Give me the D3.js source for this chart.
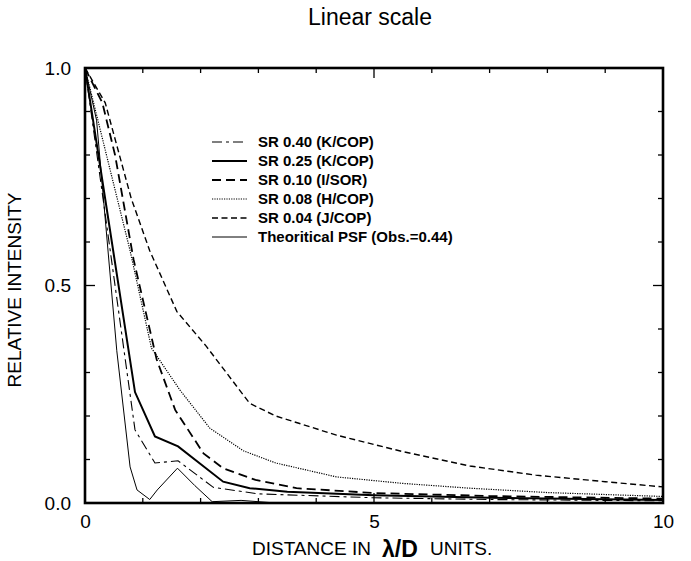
<!DOCTYPE html>
<html>
<head>
<meta charset="utf-8">
<script src="https://cdn.jsdelivr.net/npm/d3@7"></script>
<style>
  body { margin: 0; background: #fff; }
  svg { font-family: "Liberation Sans", Arial, Helvetica, sans-serif; }
</style>
</head>
<body>
<div id="chart"></div>
<script>
// values, [distance in lambda/D, relative intensity]
const sr40 = [[0, 1], [0.865, 0.168], [1.21, 0.092], [1.61, 0.097], [2.22, 0.036], [3, 0.021], [5, 0.012], [7, 0.008], [10, 0.005]];
const sr25 = [[0, 1], [0.865, 0.255], [1.21, 0.153], [1.61, 0.13], [2.39, 0.049], [2.85, 0.034], [3.5, 0.026], [5, 0.018], [7, 0.012], [10, 0.007]];
const sr10 = [[0, 1], [0.3, 0.92], [0.52, 0.8], [0.84, 0.56], [1.24, 0.33], [1.56, 0.214], [2.05, 0.114], [2.39, 0.08], [2.95, 0.053], [3.66, 0.034], [5, 0.023], [7, 0.016], [10, 0.01]];
const sr08 = [[0, 1], [0.78, 0.58], [1.15, 0.356], [1.64, 0.26], [2.16, 0.172], [2.74, 0.12], [3.3, 0.092], [4.35, 0.06], [5.5, 0.045], [6.66, 0.034], [8, 0.024], [10, 0.015]];
const sr04 = [[0, 1], [0.35, 0.92], [0.8, 0.7], [1.12, 0.58], [1.59, 0.44], [2.1, 0.36], [2.85, 0.229], [3.3, 0.2], [4.35, 0.156], [5.5, 0.118], [6.66, 0.085], [7.8, 0.064], [9, 0.049], [10, 0.037]];
const psf = [[0, 1], [0.2, 0.88], [0.55, 0.35], [0.78, 0.083], [0.9, 0.03], [1.12, 0.008], [1.25, 0.03], [1.6, 0.08], [1.9, 0.04], [2.2, 0.003], [2.7, 0.006], [3.2, 0.001], [10, 0.001]];

const seriesLabels = ["SR 0.40 (K/COP)", "SR 0.25 (K/COP)", "SR 0.10 (I/SOR)", "SR 0.08 (H/COP)", "SR 0.04 (J/COP)", "Theoritical PSF (Obs.=0.44)"];
const xTickLabels = [0, 5, 10];
const yTickLabels = [0, 0.5, 1];

const seriesData = [sr40, sr25, sr10, sr08, sr04, psf];
const seriesStyle = [
    { w: 1.1, dash: "10,4,3,4" },
    { w: 2, dash: null },
    { w: 1.8, dash: "9,5" },
    { w: 1.2, dash: "1.2,1.2" },
    { w: 1.4, dash: "6,3.5" },
    { w: 1, dash: null }
];

const width = 691, height = 561;
const margin = { left: 85, right: 28, top: 68, bottom: 58 };

const svg = d3.select("#chart").append("svg")
    .attr("width", width)
    .attr("height", height);

const x = d3.scaleLinear().domain([0, 10]).range([margin.left, width - margin.right]);
const y = d3.scaleLinear().domain([0, 1]).range([height - margin.bottom, margin.top]);

svg.append("clipPath").attr("id", "plot")
    .append("rect")
    .attr("x", x(0)).attr("y", y(1))
    .attr("width", x(10) - x(0)).attr("height", y(0) - y(1));

const line = d3.line().x(d => x(d[0])).y(d => y(d[1]));

svg.append("g").attr("clip-path", "url(#plot)")
    .selectAll("path")
    .data(seriesData)
    .enter().append("path")
    .attr("d", line)
    .attr("fill", "none")
    .attr("stroke", "#000")
    .attr("stroke-width", (d, i) => seriesStyle[i].w)
    .attr("stroke-dasharray", (d, i) => seriesStyle[i].dash);

// inside ticks on all four sides
const isMajorX = v => v % 5 === 0;
const isMajorY = v => Math.abs(v * 10 % 5) < 1e-6;
const ticks = svg.append("g").attr("stroke", "#000").attr("stroke-width", 1.3);

ticks.selectAll("line.xb").data(x.ticks(10)).enter().append("line")
    .attr("x1", d => x(d)).attr("x2", d => x(d))
    .attr("y1", y(0)).attr("y2", d => y(0) - (isMajorX(d) ? 10 : 5));
ticks.selectAll("line.xt").data(x.ticks(10)).enter().append("line")
    .attr("x1", d => x(d)).attr("x2", d => x(d))
    .attr("y1", y(1)).attr("y2", d => y(1) + (isMajorX(d) ? 10 : 5));
ticks.selectAll("line.yl").data(y.ticks(10)).enter().append("line")
    .attr("y1", d => y(d)).attr("y2", d => y(d))
    .attr("x1", x(0)).attr("x2", d => x(0) + (isMajorY(d) ? 10 : 5));
ticks.selectAll("line.yr").data(y.ticks(10)).enter().append("line")
    .attr("y1", d => y(d)).attr("y2", d => y(d))
    .attr("x1", x(10)).attr("x2", d => x(10) - (isMajorY(d) ? 10 : 5));

// frame
svg.append("rect")
    .attr("x", x(0)).attr("y", y(1))
    .attr("width", x(10) - x(0)).attr("height", y(0) - y(1))
    .attr("fill", "none")
    .attr("stroke", "#000")
    .attr("stroke-width", 2.6);

// tick labels
const xAxis = svg.append("g")
    .attr("transform", `translate(0, ${y(0)})`)
    .call(d3.axisBottom(x).tickValues(xTickLabels).tickSize(0).tickPadding(12).tickFormat(d3.format("d")));
const yAxis = svg.append("g")
    .attr("transform", `translate(${x(0)}, 0)`)
    .call(d3.axisLeft(y).tickValues(yTickLabels).tickSize(0).tickPadding(14).tickFormat(d3.format(".1f")));
[xAxis, yAxis].forEach(g => {
    g.select(".domain").remove();
    g.selectAll("text")
        .attr("font-family", "Liberation Sans, Arial, sans-serif")
        .attr("font-size", 19)
        .attr("fill", "#000");
});

// title and axis titles
svg.append("text")
    .attr("x", 370).attr("y", 25)
    .attr("text-anchor", "middle")
    .attr("font-size", 23)
    .text("Linear scale");

svg.append("text")
    .attr("transform", `translate(21, 290) rotate(-90)`)
    .attr("text-anchor", "middle")
    .attr("font-size", 19)
    .text("RELATIVE INTENSITY");

svg.append("text")
    .attr("x", 252).attr("y", 555)
    .attr("font-size", 19)
    .text("DISTANCE IN");
svg.append("text")
    .attr("x", 382).attr("y", 557)
    .attr("font-size", 23)
    .attr("font-weight", "bold")
    .text("\u03bb/D");
svg.append("text")
    .attr("x", 430).attr("y", 555)
    .attr("font-size", 19)
    .text("UNITS.");

// legend
const legend = svg.append("g");
const rows = legend.selectAll("g")
    .data(seriesLabels)
    .enter().append("g")
    .attr("transform", (d, i) => `translate(0, ${142 + i * 19})`);
rows.append("line")
    .attr("x1", 212).attr("x2", 247)
    .attr("stroke", "#000")
    .attr("stroke-width", (d, i) => seriesStyle[i].w)
    .attr("stroke-dasharray", (d, i) => seriesStyle[i].dash);
rows.append("text")
    .attr("x", 258).attr("dy", "0.36em")
    .attr("font-weight", "bold")
    .attr("font-size", 15)
    .text(d => d);
</script>
</body>
</html>
